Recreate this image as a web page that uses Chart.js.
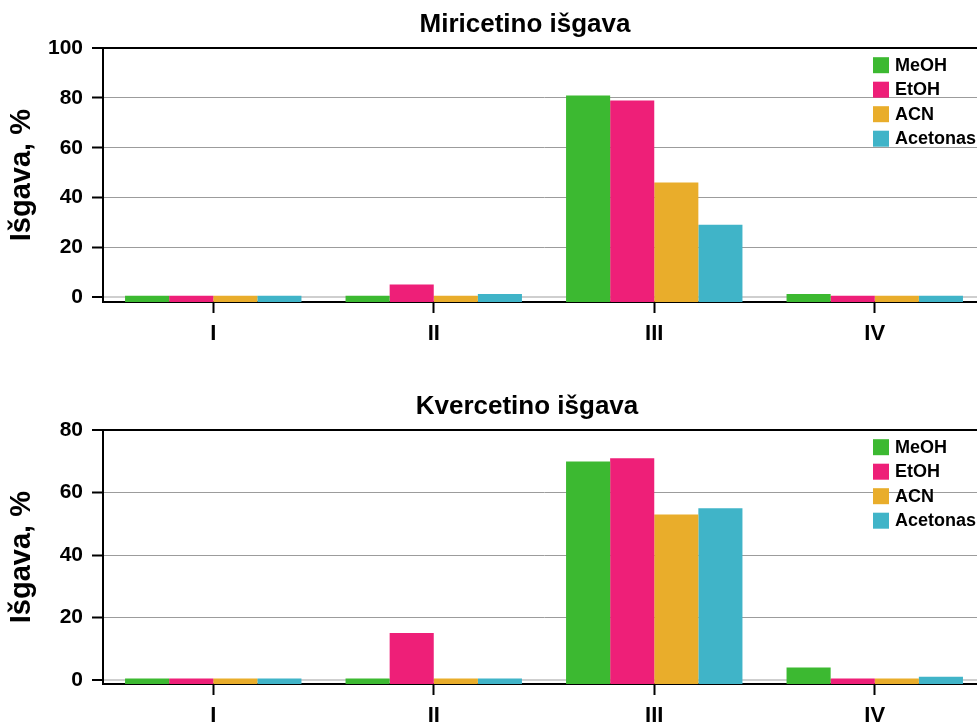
<!DOCTYPE html>
<html>
<head>
<meta charset="utf-8">
<script src="https://cdn.jsdelivr.net/npm/chart.js@4"></script>
<style>
  html, body { margin: 0; padding: 0; overflow: hidden; background: #fff; width: 977px; height: 725px; }
  .wrap { position: absolute; left: 0; height: 382px; }
  canvas { display: block; }
</style>
</head>
<body>
<div class="wrap" style="top:0;width:1050px"><canvas id="c1" width="1050" height="382"></canvas></div>
<div class="wrap" style="top:382px;width:1054px"><canvas id="c2" width="1054" height="382"></canvas></div>
<script>
const categories = ['I', 'II', 'III', 'IV'];
const seriesNames = ['MeOH', 'EtOH', 'ACN', 'Acetonas'];
const seriesColors = ['#3cb931', '#ee1f78', '#e9ad2b', '#40b4c8'];

// Miricetino išgava
const myrMeOH = [0.5, 0.5, 81, 1.2];
const myrEtOH = [0.5, 5, 79, 0.5];
const myrACN = [0.5, 0.5, 46, 0.5];
const myrAcetonas = [0.5, 1.2, 29, 0.5];
const myrTicks = [0, 20, 40, 60, 80, 100];

// Kvercetino išgava
const kvMeOH = [0.5, 0.5, 70, 4];
const kvEtOH = [0.5, 15, 71, 0.5];
const kvACN = [0.5, 0.5, 53, 0.5];
const kvAcetonas = [0.5, 0.5, 55, 1];
const kvTicks = [0, 20, 40, 60, 80];

const FONT = "'Liberation Sans', Arial, Helvetica, sans-serif";

const legendPlugin = {
  id: 'insideLegend',
  afterDatasetsDraw(chart) {
    const ctx = chart.ctx;
    const a = chart.chartArea;
    const x0 = a.left + 770;
    let y0 = a.top + 9;
    ctx.save();
    ctx.font = 'bold 18px ' + FONT;
    ctx.textBaseline = 'middle';
    ctx.textAlign = 'left';
    chart.data.datasets.forEach((ds, i) => {
      const y = y0 + i * 24.5;
      ctx.fillStyle = ds.backgroundColor;
      ctx.fillRect(x0, y, 16, 16);
      ctx.fillStyle = '#000';
      ctx.fillText(ds.label, x0 + 22, y + 8.5);
    });
    ctx.restore();
  }
};

function makeChart(id, title, seriesData, ticks, yMin, rightSpace) {
  const yMax = ticks[ticks.length - 1];
  return new Chart(document.getElementById(id), {
    type: 'bar',
    data: {
      labels: categories,
      datasets: seriesData.map((d, i) => ({
        label: seriesNames[i],
        data: d,
        backgroundColor: seriesColors[i],
        borderWidth: 0,
        base: yMin,
        categoryPercentage: 0.8,
        barPercentage: 1.0
      }))
    },
    options: {
      responsive: false,
      animation: false,
      devicePixelRatio: 1,
      layout: { padding: 0 },
      plugins: {
        legend: { display: false },
        tooltip: { enabled: false },
        title: {
          display: true,
          text: title,
          color: '#000',
          font: { family: FONT, size: 26, weight: 'bold' },
          padding: { top: 9, bottom: 8 }
        }
      },
      scales: {
        x: {
          offset: true,
          grid: {
            offset: false,
            drawOnChartArea: false,
            drawTicks: true,
            tickLength: 11,
            tickColor: '#000',
            tickWidth: 2
          },
          border: { display: true, color: '#000', width: 2 },
          ticks: {
            color: '#000',
            padding: 8,
            font: { family: FONT, size: 22, weight: 'bold' }
          },
          afterFit: s => { s.height = 80; }
        },
        y: {
          min: yMin,
          max: yMax,
          afterBuildTicks: s => { s.ticks = ticks.map(v => ({ value: v })); },
          grid: {
            color: c => (c.tick && c.tick.value === yMax) ? '#000' : (c.tick && c.tick.value === 0 ? '#cfcfcf' : '#9c9c9c'),
            lineWidth: c => (c.tick && c.tick.value === yMax) ? 2 : (c.tick && c.tick.value === 0 ? 2 : 1),
            tickColor: '#000',
            tickLength: 11,
            tickWidth: 2
          },
          border: { display: true, color: '#000', width: 2 },
          ticks: {
            color: '#000',
            padding: 9,
            font: { family: FONT, size: 21, weight: 'bold' }
          },
          title: {
            display: true,
            text: 'Išgava, %',
            color: '#000',
            font: { family: FONT, size: 29, weight: 'bold' },
            padding: { top: 5, bottom: 0 }
          },
          afterFit: s => { s.width = 103; }
        },
        spacer: {
          type: 'linear',
          position: 'right',
          display: true,
          min: 0,
          max: 1,
          grid: { display: false, drawOnChartArea: false, drawTicks: false },
          border: { display: false },
          ticks: { display: false },
          afterFit: s => { s.width = rightSpace; }
        }
      }
    },
    plugins: [legendPlugin]
  });
}

makeChart('c1', 'Miricetino išgava', [myrMeOH, myrEtOH, myrACN, myrAcetonas], myrTicks, -2, 65);
makeChart('c2', 'Kvercetino išgava', [kvMeOH, kvEtOH, kvACN, kvAcetonas], kvTicks, -1.3, 69);
</script>
</body>
</html>
